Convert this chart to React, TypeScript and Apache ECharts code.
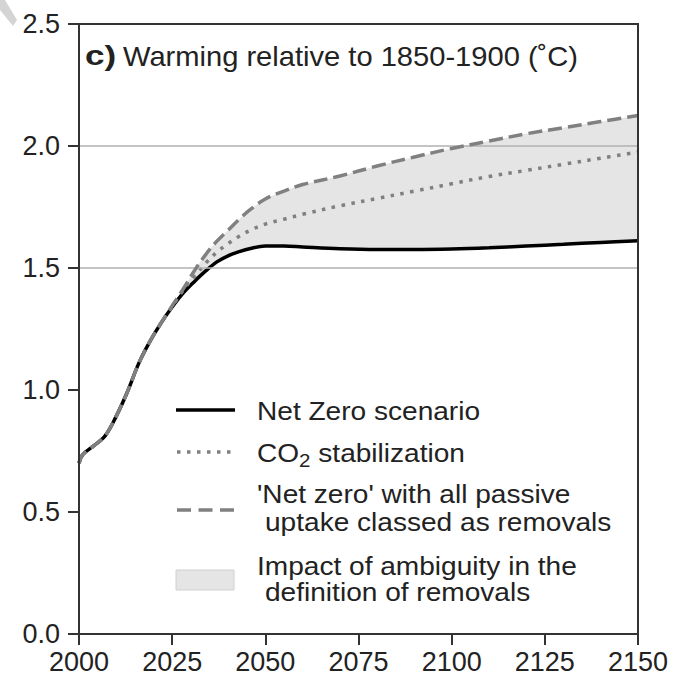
import React, { useEffect, useRef } from "react";
import * as echarts from "echarts";

const years = [2000, 2001, 2004, 2007, 2010, 2013, 2016, 2019, 2022, 2025, 2028, 2031, 2034, 2037, 2040, 2043, 2046, 2050, 2055, 2060, 2070, 2080, 2090, 2100, 2110, 2120, 2130, 2140, 2150];
const netZero = [0.70, 0.735, 0.772, 0.812, 0.893, 0.993, 1.108, 1.198, 1.274, 1.34, 1.398, 1.445, 1.488, 1.525, 1.55, 1.567, 1.58, 1.59, 1.59, 1.586, 1.579, 1.576, 1.576, 1.578, 1.583, 1.59, 1.597, 1.605, 1.612];
const co2Stabilization = [0.70, 0.735, 0.772, 0.812, 0.893, 0.993, 1.108, 1.198, 1.274, 1.342, 1.41, 1.465, 1.52, 1.565, 1.60, 1.63, 1.655, 1.68, 1.70, 1.72, 1.755, 1.785, 1.815, 1.845, 1.875, 1.90, 1.925, 1.95, 1.975];
const passiveNetZero = [0.70, 0.735, 0.772, 0.812, 0.893, 0.993, 1.108, 1.198, 1.274, 1.345, 1.415, 1.49, 1.555, 1.61, 1.655, 1.70, 1.74, 1.783, 1.815, 1.842, 1.877, 1.918, 1.955, 1.99, 2.02, 2.05, 2.075, 2.10, 2.125];
const gridLevels = [1.5, 2.0];
const xTicks = { min: 2000, max: 2150, interval: 25 };
const yTicks = { min: 0, max: 2.5, interval: 0.5 };

const titleLabel = "c)";
const titleText = "Warming relative to 1850-1900 (˚C)";
const legendNetZero = "Net Zero scenario";
const legendPassive = ["'Net zero' with all passive", "uptake classed as removals"];
const legendImpact = ["Impact of ambiguity in the", "definition of removals"];

const FONT = "'Liberation Sans', Arial, Helvetica, sans-serif";
const TEXT = "#222";
const GRAY = "#808080";
const BAND = "#e5e5e5";
const SMOOTH = 0.35;

const pairs = (vals: number[]) => years.map((y, i) => [y, vals[i]]);

export default function App() {
  const ref = useRef<HTMLDivElement>(null);
  useEffect(() => {
    const chart = echarts.init(ref.current!, null, { renderer: "svg" });
    const legendTxt = (text: string, x: number, y: number) => ({
      type: "text",
      x,
      y,
      scaleX: 1.08,
      z: 20,
      style: { text, fill: TEXT, fontSize: 26, fontFamily: FONT, verticalAlign: "middle", align: "left" },
    });
    chart.setOption({
      animation: false,
      backgroundColor: "#fff",
      grid: { left: 79, right: 39, top: 24, bottom: 43, show: true, borderColor: "#333", borderWidth: 2, z: 10 },
      xAxis: {
        type: "value",
        min: xTicks.min,
        max: xTicks.max,
        interval: xTicks.interval,
        axisLine: { show: true, lineStyle: { color: "#333", width: 2 } },
        axisTick: { show: true, length: 11, lineStyle: { color: "#333", width: 2 } },
        axisLabel: { color: TEXT, fontSize: 27, fontFamily: FONT, margin: 14, formatter: (v: number) => String(v) },
        splitLine: { show: false },
      },
      yAxis: {
        type: "value",
        min: yTicks.min,
        max: yTicks.max,
        interval: yTicks.interval,
        axisLine: { show: true, lineStyle: { color: "#333", width: 2 } },
        axisTick: { show: true, length: 11, lineStyle: { color: "#333", width: 2 } },
        axisLabel: { color: TEXT, fontSize: 27, fontFamily: FONT, margin: 19, formatter: (v: number) => v.toFixed(1) },
        splitLine: { show: false },
      },
      series: [
        {
          name: "band-top",
          type: "line",
          data: pairs(passiveNetZero),
          smooth: SMOOTH,
          symbol: "none",
          silent: true,
          lineStyle: { width: 0, color: BAND },
          areaStyle: { color: BAND, opacity: 1, origin: "start" },
          z: 1,
        },
        {
          name: "band-bottom",
          type: "line",
          data: pairs(netZero),
          smooth: SMOOTH,
          symbol: "none",
          silent: true,
          lineStyle: { width: 0, color: "#fff" },
          areaStyle: { color: "#fff", opacity: 1, origin: "start" },
          z: 1.5,
        },
        {
          name: "grid",
          type: "line",
          data: [],
          z: 2,
          markLine: {
            silent: true,
            symbol: "none",
            label: { show: false },
            lineStyle: { color: "#b0b0b0", width: 1.5, type: "solid" },
            data: gridLevels.map((v) => ({ yAxis: v })),
          },
        },
        {
          name: "Net Zero scenario",
          type: "line",
          data: pairs(netZero),
          smooth: SMOOTH,
          symbol: "none",
          lineStyle: { color: "#000", width: 3.5 },
          z: 3,
        },
        {
          name: "CO2 stabilization",
          type: "line",
          data: pairs(co2Stabilization),
          smooth: SMOOTH,
          symbol: "none",
          lineStyle: { color: GRAY, width: 3.5, type: [3.5, 6.5] },
          z: 4,
        },
        {
          name: "Passive net zero",
          type: "line",
          data: pairs(passiveNetZero),
          smooth: SMOOTH,
          symbol: "none",
          lineStyle: { color: GRAY, width: 3.5, type: [14, 6] },
          z: 5,
        },
      ],
      graphic: [
        { type: "polygon", shape: { points: [[0, 0], [5, 0], [17, 20], [13, 26], [0, 10]] }, style: { fill: "#d4d4d4" }, z: 20 },
        {
          type: "text",
          x: 85,
          y: 56,
          z: 20,
          scaleX: 1.3,
          style: { text: titleLabel, fill: TEXT, fontSize: 27, fontWeight: "bold", fontFamily: FONT, verticalAlign: "middle", align: "left" },
        },
        {
          type: "text",
          x: 123,
          y: 56,
          z: 20,
          scaleX: 1.04,
          style: { text: titleText, fill: TEXT, fontSize: 28, fontFamily: FONT, verticalAlign: "middle", align: "left" },
        },
        { type: "line", shape: { x1: 176, y1: 410, x2: 235, y2: 410 }, style: { stroke: "#000", lineWidth: 3.5 }, z: 20 },
        legendTxt(legendNetZero, 257, 411),
        { type: "line", shape: { x1: 177, y1: 452, x2: 236, y2: 452 }, style: { stroke: GRAY, lineWidth: 3.5, lineDash: [3.5, 6.5] }, z: 20 },
        {
          type: "text",
          x: 257,
          y: 453,
          z: 20,
          scaleX: 1.08,
          style: {
            text: "{a|CO}{s|2}{a| stabilization}",
            fill: TEXT,
            fontSize: 26,
            fontFamily: FONT,
            verticalAlign: "middle",
            align: "left",
            rich: {
              a: { fontSize: 26, fontFamily: FONT, fill: TEXT },
              s: { fontSize: 19, fontFamily: FONT, fill: TEXT, padding: [14, 0, 0, 0] },
            },
          },
        },
        { type: "line", shape: { x1: 177, y1: 510, x2: 234, y2: 510 }, style: { stroke: GRAY, lineWidth: 3.5, lineDash: [14, 7.5] }, z: 20 },
        legendTxt(legendPassive[0], 257, 494),
        legendTxt(legendPassive[1], 265, 522),
        { type: "rect", shape: { x: 176, y: 570, width: 58, height: 20 }, style: { fill: BAND, stroke: "#d0d0d0", lineWidth: 1 }, z: 20 },
        legendTxt(legendImpact[0], 257, 566),
        legendTxt(legendImpact[1], 265, 592),
      ],
    });
    return () => chart.dispose();
  }, []);
  return <div ref={ref} style={{ position: "absolute", left: 0, top: 0, width: 677, height: 677, background: "#fff" }} />;
}
